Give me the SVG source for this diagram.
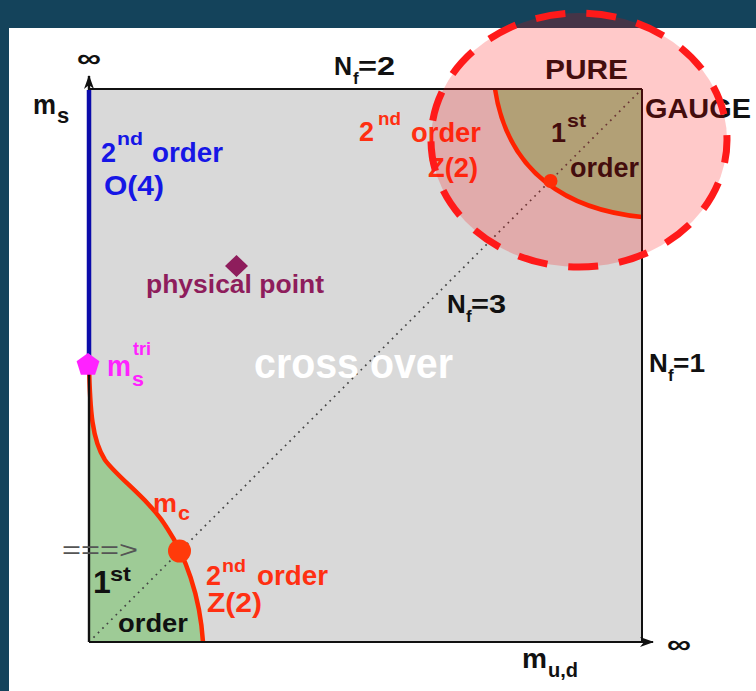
<svg xmlns="http://www.w3.org/2000/svg" width="756" height="691" viewBox="0 0 756 691">
<defs>
<style>
text{font-family:"Liberation Sans",Arial,sans-serif;font-weight:bold}
.k{fill:#111}
.b{fill:#1616E6}
.r{fill:#FF3012}
.mg{fill:#FF22FF}
.cv{fill:none;stroke:#FF2A00;stroke-width:4.5}
</style>
<marker id="ah" markerUnits="userSpaceOnUse" markerWidth="14" markerHeight="10" refX="13" refY="5" orient="auto">
<path d="M0,0 L14,5 L0,10 L4,5 Z" fill="#111"/>
</marker>
</defs>
<rect width="756" height="691" fill="#14435B"/>
<rect x="9" y="28" width="747" height="663" fill="#FFFFFF"/>
<g id="plot">
<rect x="89" y="89" width="553" height="553" fill="#D9D9D9"/>
<path id="green-bl" d="M89,365 C90,410 92,440 105,460 C118,478 150,500 167,528 C185,555 200,595 203,642 L89,642 Z" fill="#9ECB96"/>
<path id="green-tr" d="M495,89 C508,175 570,210 642,217 L642,89 Z" fill="#9ECB96"/>
</g>
<g id="connectors">
<line x1="89" y1="642" x2="642" y2="89" stroke="#444" stroke-width="1.7" stroke-dasharray="1.7 4.6"/>
<path class="cv" d="M89,365 C90,410 92,440 105,460 C118,478 150,500 167,528 C185,555 200,595 203,642"/>
<path class="cv" d="M495,89 C508,175 570,210 642,217"/>
<line x1="89" y1="89" x2="642" y2="89" stroke="#111" stroke-width="2"/>
<line x1="642" y1="89" x2="642" y2="642" stroke="#111" stroke-width="2"/>
<line x1="89" y1="642" x2="89" y2="76" stroke="#111" stroke-width="2.4" marker-end="url(#ah)"/>
<line x1="89" y1="642" x2="653" y2="642" stroke="#111" stroke-width="2.2" marker-end="url(#ah)"/>
<line x1="89" y1="90" x2="89" y2="362" stroke="#0B0BAA" stroke-width="4.5"/>
</g>
<g id="points">
<circle cx="179.5" cy="551" r="11.5" fill="#FF3A0A"/>
<circle cx="550.5" cy="181" r="7" fill="#FF3A0A"/>
<polygon points="88,353 99.4,361.3 95.1,374.7 80.9,374.7 76.6,361.3" fill="#FF22FF"/>
<polygon points="236.5,255 248,266 236.5,277 225,266" fill="#8E1D5C"/>
</g>
<g id="labels">
<text class="k" x="77" y="67" font-size="26" textLength="24" lengthAdjust="spacingAndGlyphs">∞</text>
<text class="k" font-size="27"><tspan x="33" y="114" textLength="23" lengthAdjust="spacingAndGlyphs">m</tspan><tspan x="57" y="123" font-size="22">s</tspan></text>
<text class="k" font-size="25"><tspan x="334" y="75">N</tspan><tspan x="353" y="84" font-size="17">f</tspan><tspan x="358" y="75" textLength="37" lengthAdjust="spacingAndGlyphs">=2</tspan></text>
<text class="k" x="545" y="79" font-size="28" textLength="83" lengthAdjust="spacingAndGlyphs">PURE</text>
<text class="k" x="645" y="118" font-size="28" textLength="106" lengthAdjust="spacingAndGlyphs">GAUGE</text>
<text class="k" font-size="26"><tspan x="447" y="313">N</tspan><tspan x="466" y="322" font-size="17">f</tspan><tspan x="471" y="313" textLength="35" lengthAdjust="spacingAndGlyphs">=3</tspan></text>
<text class="k" font-size="26"><tspan x="649" y="372">N</tspan><tspan x="668" y="381" font-size="17">f</tspan><tspan x="673" y="372" textLength="32" lengthAdjust="spacingAndGlyphs">=1</tspan></text>
<text class="k" font-size="27"><tspan x="522" y="668" textLength="25" lengthAdjust="spacingAndGlyphs">m</tspan><tspan x="548" y="677" font-size="20" textLength="30" lengthAdjust="spacingAndGlyphs">u,d</tspan></text>
<text class="k" x="667" y="653" font-size="26" textLength="24" lengthAdjust="spacingAndGlyphs">∞</text>
<text x="62" y="558" font-size="24" fill="#555" style="font-weight:normal" textLength="76" lengthAdjust="spacingAndGlyphs">===&gt;</text>
<text class="k" font-size="32"><tspan x="93" y="593">1</tspan><tspan x="110" y="581" font-size="21" textLength="21" lengthAdjust="spacingAndGlyphs">st</tspan></text>
<text class="k" x="118" y="632" font-size="26" textLength="70" lengthAdjust="spacingAndGlyphs">order</text>
<text class="r" font-size="27"><tspan x="206" y="585">2</tspan><tspan x="222" y="572" font-size="19" textLength="24" lengthAdjust="spacingAndGlyphs">nd</tspan><tspan x="257" y="585" textLength="71" lengthAdjust="spacingAndGlyphs">order</tspan></text>
<text class="r" x="207" y="612" font-size="27" textLength="55" lengthAdjust="spacingAndGlyphs">Z(2)</text>
<text class="r" font-size="26"><tspan x="153" y="512" textLength="24" lengthAdjust="spacingAndGlyphs">m</tspan><tspan x="178" y="520" font-size="20" textLength="12" lengthAdjust="spacingAndGlyphs">c</tspan></text>
<text class="mg" font-size="30"><tspan x="107" y="376" textLength="24" lengthAdjust="spacingAndGlyphs">m</tspan><tspan x="132" y="386" font-size="20" textLength="12" lengthAdjust="spacingAndGlyphs">s</tspan><tspan x="133" y="355" font-size="19" textLength="18" lengthAdjust="spacingAndGlyphs">tri</tspan></text>
<text x="146" y="293" font-size="25" fill="#8E1D5C" textLength="178" lengthAdjust="spacingAndGlyphs">physical point</text>
<text x="254" y="378" font-size="42" fill="#FFFFFF" textLength="199" lengthAdjust="spacingAndGlyphs">cross over</text>
<text class="b" font-size="27"><tspan x="101" y="162">2</tspan><tspan x="117" y="145" font-size="19" textLength="26" lengthAdjust="spacingAndGlyphs">nd</tspan><tspan x="152" y="162" textLength="71" lengthAdjust="spacingAndGlyphs">order</tspan></text>
<text class="b" x="104" y="195" font-size="27" textLength="60" lengthAdjust="spacingAndGlyphs">O(4)</text>
<text class="r" font-size="27"><tspan x="359" y="141">2</tspan><tspan x="378" y="125" font-size="19" textLength="23" lengthAdjust="spacingAndGlyphs">nd</tspan><tspan x="411" y="142" textLength="70" lengthAdjust="spacingAndGlyphs">order</tspan></text>
<text class="r" x="428" y="177" font-size="27" textLength="50" lengthAdjust="spacingAndGlyphs">Z(2)</text>
<text class="k" font-size="27"><tspan x="551" y="142">1</tspan><tspan x="567" y="127" font-size="19" textLength="19" lengthAdjust="spacingAndGlyphs">st</tspan></text>
<text class="k" x="570" y="177" font-size="27" textLength="69" lengthAdjust="spacingAndGlyphs">order</text>
</g>
<g id="highlight">
<ellipse cx="579" cy="140" rx="148" ry="127" fill="#FF0000" fill-opacity="0.21"/>
<ellipse cx="579" cy="140" rx="148" ry="127" fill="none" stroke="#FF1A1A" stroke-width="7" stroke-dasharray="30 21" stroke-dashoffset="7"/>
</g>
</svg>
